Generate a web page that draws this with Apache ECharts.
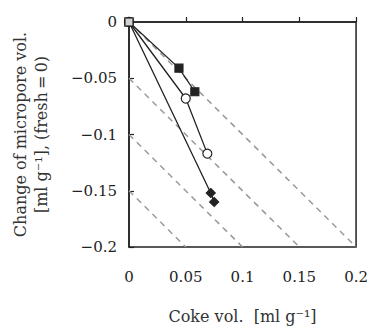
<!DOCTYPE html>
<html>
<head>
<meta charset="utf-8">
<script src="https://cdn.jsdelivr.net/npm/echarts@6/dist/echarts.min.js"></script>
<style>
  html, body { margin: 0; padding: 0; background: #fff; }
  #chart { width: 371px; height: 329px; }
</style>
</head>
<body>
<div id="chart"></div>
<script>
// coke vol. vs change of micropore vol.
const squareSeries = [[0, 0], [0.044, -0.041], [0.058, -0.062]]
const circleSeries = [[0, 0], [0.05, -0.068], [0.069, -0.117]]
const diamondSeries = [[0, 0], [0.072, -0.152], [0.075, -0.160]]

// reference lines of slope -1
const guideOffsets = [0, -0.05, -0.1, -0.15]

const xTicks = [0, 0.05, 0.1, 0.15, 0.2]
const yTicks = [0, -0.05, -0.1, -0.15, -0.2]

const font = '"DejaVu Serif", "Liberation Serif", serif'
const ink = '#222'

const fmt = (v) => (v === 0 ? '0' : String(v).replace('-', '\u2212'))

const guideSeries = guideOffsets.map((c) => ({
  type: 'line',
  data: [[0, c], [0.2 + c, -0.2]],
  symbol: 'none',
  silent: true,
  lineStyle: { color: '#999', width: 1.5, type: [6, 5] },
  z: 1,
}))

function dataSeries(data, symbol, size, filled) {
  return {
    type: 'line',
    data: data,
    symbol: symbol,
    symbolSize: size,
    lineStyle: { color: ink, width: 1.3 },
    itemStyle: {
      color: filled ? ink : '#fff',
      borderColor: ink,
      borderWidth: 1.2,
    },
    z: 3,
  }
}

const chart = echarts.init(document.getElementById('chart'), null, { renderer: 'svg' })

chart.setOption({
  animation: false,
  grid: {
    left: 129,
    top: 22,
    width: 228,
    height: 226,
    show: true,
    borderColor: ink,
    borderWidth: 1.5,
    backgroundColor: 'transparent',
  },
  xAxis: {
    type: 'value',
    min: 0,
    max: 0.2,
    interval: 0.05,
    name: 'Coke vol.  [ml g\u207B\u00B9]',
    nameLocation: 'middle',
    nameGap: 61,
    nameTextStyle: { fontFamily: font, fontSize: 16, color: '#333' },
    axisLine: { show: true, lineStyle: { color: ink, width: 1.5 } },
    axisTick: { show: true, inside: true, length: 5, lineStyle: { color: ink, width: 1.2 } },
    axisLabel: {
      fontFamily: font, fontSize: 15, color: ink, margin: 22,
      formatter: (v) => fmt(xTicks.find((t) => Math.abs(t - v) < 1e-9) ?? v),
    },
    splitLine: { show: false },
  },
  yAxis: {
    type: 'value',
    min: -0.2,
    max: 0,
    interval: 0.05,
    name: 'Change of micropore vol.\n[ml g\u207B\u00B9], (fresh\u2009=\u20090)',
    nameLocation: 'middle',
    nameGap: 77,
    nameRotate: 90,
    nameTextStyle: { fontFamily: font, fontSize: 16, color: '#333', lineHeight: 21 },
    axisLine: { show: true, lineStyle: { color: ink, width: 1.5 } },
    axisTick: { show: true, inside: true, length: 5, lineStyle: { color: ink, width: 1.2 } },
    axisLabel: {
      fontFamily: font, fontSize: 15, color: ink, margin: 12,
      formatter: (v) => fmt(yTicks.find((t) => Math.abs(t - v) < 1e-9) ?? v),
    },
    splitLine: { show: false },
  },
  series: [
    ...guideSeries,
    dataSeries(squareSeries, 'rect', 8, true),
    dataSeries(circleSeries, 'circle', 9, false),
    dataSeries(diamondSeries, 'diamond', 9, true),
    {
      type: 'scatter',
      data: [[0, 0]],
      symbol: 'rect',
      symbolSize: 8,
      itemStyle: { color: '#fff', borderColor: ink, borderWidth: 1.5 },
      z: 5,
    },
  ],
})
</script>
</body>
</html>
